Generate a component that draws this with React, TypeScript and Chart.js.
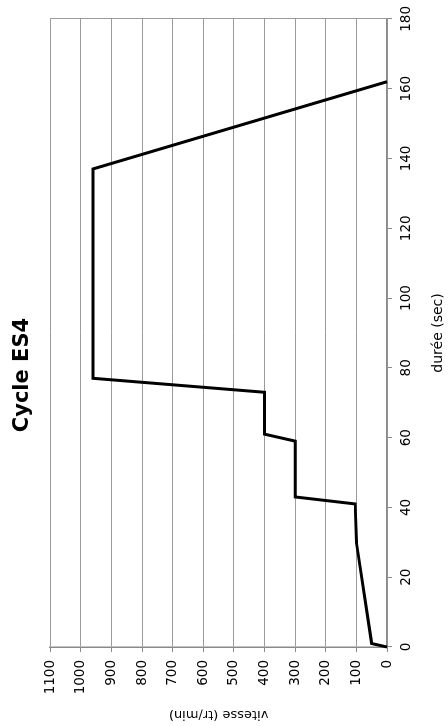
import React, { useEffect, useRef } from "react";
import { Chart, registerables } from "chart.js";

Chart.register(...registerables);

const titleText = "Cycle ES4";
const xTitle = "durée (sec)";
const yTitle = "vitesse (tr/min)";
const durations = [0, 1, 30, 41, 43, 59, 61, 73, 77, 137, 162];
const speeds = [0, 50, 100, 104, 300, 300, 400, 400, 960, 960, 0];
const xMin = 0;
const xMax = 180;
const xStep = 20;
const yMin = 0;
const yMax = 1100;
const yStep = 100;

const FONT = "'DejaVu Sans', sans-serif";
const GRID = "#9a9a9a";
const AXIS = "#8a8a8a";

const titleShift = {
  id: "titleShift",
  afterLayout(chart: any) {
    const t = chart.titleBlock;
    if (t) t.right -= 9;
  },
};

export default function App() {
  const ref = useRef<HTMLCanvasElement | null>(null);

  useEffect(() => {
    if (!ref.current) return;
    const points = durations.map((d, i) => ({ x: d, y: speeds[i] }));
    const chart = new Chart(ref.current, {
      type: "scatter",
      data: {
        datasets: [
          {
            data: points,
            showLine: true,
            borderColor: "#000",
            backgroundColor: "#000",
            borderWidth: 3,
            pointRadius: 0,
            tension: 0,
            clip: 4,
          } as any,
        ],
      },
      plugins: [titleShift],
      options: {
        responsive: false,
        devicePixelRatio: 1,
        animation: false,
        layout: { padding: { left: 0, right: 15, top: 0, bottom: 0 } },
        plugins: {
          legend: { display: false },
          tooltip: { enabled: false },
          title: {
            display: true,
            text: titleText,
            color: "#000",
            font: { family: FONT, size: 21, weight: "bold" },
            padding: { top: 10, bottom: 15 },
          },
        },
        scales: {
          x: {
            type: "linear",
            min: xMin,
            max: xMax,
            ticks: {
              stepSize: xStep,
              color: "#000",
              font: { family: FONT, size: 13.5 },
              padding: 6,
              maxRotation: 0,
              callback: (v: any) => String(v),
            },
            grid: {
              color: (ctx: any) =>
                ctx.tick && ctx.tick.value === xMax ? GRID : "rgba(0,0,0,0)",
              tickColor: AXIS,
              tickLength: 5,
              lineWidth: 1,
            },
            border: { display: true, color: AXIS, width: 1.5 },
            title: {
              display: true,
              text: xTitle,
              color: "#000",
              font: { family: FONT, size: 14 },
              padding: { top: 0, bottom: 1 },
            },
            afterFit: (s: any) => {
              s.height = 61;
            },
          },
          y: {
            type: "linear",
            min: yMin,
            max: yMax,
            ticks: {
              stepSize: yStep,
              color: "#000",
              font: { family: FONT, size: 13.5 },
              padding: 8,
              callback: (v: any) => String(v),
            },
            grid: {
              color: GRID,
              tickColor: AXIS,
              tickLength: 5,
              lineWidth: 1,
            },
            border: { display: true, color: AXIS, width: 1.5 },
            title: {
              display: true,
              text: yTitle,
              color: "#000",
              font: { family: FONT, size: 13 },
              padding: { top: 4, bottom: 4 },
            },
            afterFit: (s: any) => {
              s.width = 79;
            },
          },
        },
      } as any,
    });
    return () => chart.destroy();
  }, []);

  return (
    <div
      style={{
        position: "fixed",
        left: 0,
        top: 0,
        width: 448,
        height: 726,
        overflow: "hidden",
        background: "#fff",
      }}
    >
      <div
        style={{
          position: "absolute",
          left: 0,
          top: 726,
          width: 726,
          height: 448,
          transformOrigin: "0 0",
          transform: "rotate(-90deg)",
        }}
      >
        <canvas
          ref={ref}
          width={726}
          height={448}
          style={{ display: "block", width: 726, height: 448 }}
        />
      </div>
    </div>
  );
}
